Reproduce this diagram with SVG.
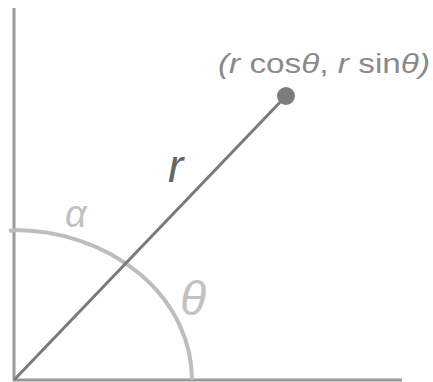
<svg xmlns="http://www.w3.org/2000/svg" width="433" height="382" viewBox="0 0 433 382">
<style>
.axis{stroke:#9a9a9a;stroke-width:3;fill:none}
.arc{stroke:#bdbdbd;stroke-width:4;fill:none}
.ray{stroke:#7a7a7a;stroke-width:3;fill:none}
text{font-family:"Liberation Sans",Arial,sans-serif}
.it{font-style:italic}
</style>
<rect width="433" height="382" fill="#fff"/>
<g id="axes">
<line class="axis" x1="14" y1="8" x2="14" y2="381"/>
<line class="axis" x1="13" y1="380" x2="402" y2="380"/>
</g>
<g id="arc">
<path class="arc" d="M192 380 A178 150 0 0 0 14 230 L9 231"/>
</g>
<g id="ray">
<line class="ray" x1="14" y1="380" x2="286" y2="96"/>
<circle cx="286" cy="96" r="9" fill="#7c7c7c"/>
</g>
<g id="labels">
<text x="218" y="73" font-size="27" fill="#8a8a8a" textLength="212" lengthAdjust="spacingAndGlyphs"><tspan class="it">(r</tspan> cos<tspan class="it">θ</tspan>, <tspan class="it">r</tspan> sin<tspan class="it">θ)</tspan></text>
<text class="it" x="168" y="182" font-size="46" fill="#666">r</text>
<text class="it" x="65" y="227" font-size="38" fill="#c2c2c2">α</text>
<text class="it" x="180" y="315" font-size="48" fill="#c2c2c2">θ</text>
</g>
</svg>
